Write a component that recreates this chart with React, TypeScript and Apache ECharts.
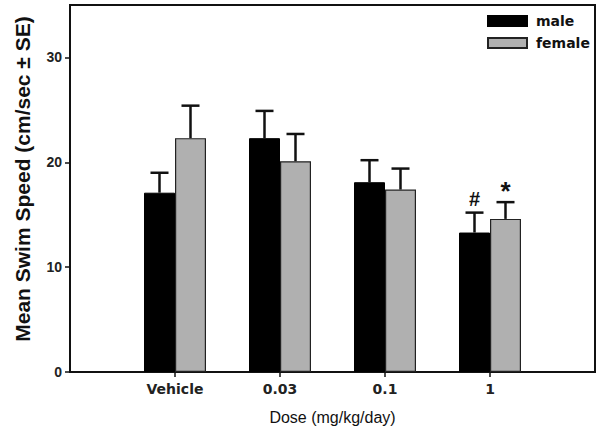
import React, { useEffect, useRef } from "react";
import * as echarts from "echarts";

const categories = ["", "Vehicle", "0.03", "0.1", "1", ""];
const maleMean = ["-", 17.1, 22.3, 18.1, 13.3, "-"];
const femaleMean = ["-", 22.3, 20.1, 17.4, 14.6, "-"];
const maleSE = [0, 1.9, 2.6, 2.1, 1.9, 0];
const femaleSE = [0, 3.1, 2.6, 2.0, 1.6, 0];
const maleMarks = ["", "", "", "", "#", ""];
const femaleMarks = ["", "", "", "", "*", ""];
const yTicks = [0, 10, 20, 30];
const yTitle = "Mean Swim Speed (cm/sec ± SE)";
const xTitle = "Dose (mg/kg/day)";

const FONT = "Liberation Sans, Arial, sans-serif";
const WIDE = "DejaVu Sans, sans-serif";
const BAR_W = 31;

function errorData(means: any[], ses: number[]) {
  const out: any[] = [];
  means.forEach((m, i) => {
    if (typeof m === "number") out.push([i, m, ses[i]]);
  });
  return out;
}

function makeErrorSeries(means: any[], ses: number[], marks: string[], offset: number, markSize: number, markDy: number) {
  const data = errorData(means, ses);
  return {
    type: "custom",
    silent: true,
    z: 5,
    data,
    renderItem: (params: any, api: any) => {
      const idx = api.value(0);
      const v = api.value(1);
      const e = api.value(2);
      const base = api.coord([idx, v]);
      const top = api.coord([idx, v + e]);
      const cx = base[0] + offset;
      const children: any[] = [
        { type: "line", shape: { x1: cx, y1: base[1], x2: cx, y2: top[1] }, style: { stroke: "#111", lineWidth: 2.5 } },
        { type: "line", shape: { x1: cx - 9, y1: top[1], x2: cx + 9, y2: top[1] }, style: { stroke: "#111", lineWidth: 2.5 } },
      ];
      const mark = marks[idx];
      if (mark) {
        children.push({
          type: "text",
          x: cx,
          y: top[1] - markDy,
          style: { text: mark, fill: "#111", font: `bold ${markSize}px ${FONT}`, align: "center", verticalAlign: "bottom" },
        });
      }
      return { type: "group", children };
    },
  };
}

export default function App() {
  const ref = useRef<HTMLDivElement>(null);
  useEffect(() => {
    if (!ref.current) return;
    const chart = echarts.init(ref.current, undefined, { renderer: "svg" });
    chart.setOption({
      animation: false,
      backgroundColor: "#fff",
      textStyle: { fontFamily: FONT },
      grid: { left: 70, right: 5, top: 5, bottom: 60, show: true, borderColor: "#111", borderWidth: 2, backgroundColor: "transparent" },
      legend: {
        orient: "vertical",
        left: 482,
        top: 9,
        itemWidth: 39,
        itemHeight: 10,
        itemGap: 8,
        icon: "rect",
        textStyle: { fontSize: 14, fontWeight: "bold", color: "#111", fontFamily: WIDE, padding: [0, 0, 0, 4] },
        data: ["male", "female"],
      },
      graphic: [
        {
          type: "text",
          x: 22,
          y: 179,
          rotation: Math.PI / 2,
          style: { text: yTitle, fill: "#111", font: `bold 21px ${FONT}`, align: "center", verticalAlign: "middle" },
        },
      ],
      xAxis: {
        type: "category",
        data: categories,
        boundaryGap: false,
        name: xTitle,
        nameLocation: "middle",
        nameGap: 37,
        nameTextStyle: { fontSize: 16, color: "#111", fontFamily: FONT },
        axisLine: { lineStyle: { color: "#111", width: 2 } },
        axisTick: { show: true, length: 5, lineStyle: { color: "#111", width: 1.5 }, interval: (i: number) => i >= 1 && i <= 4 },
        axisLabel: { fontSize: 14, fontWeight: "bold", color: "#222", margin: 10, interval: 0, fontFamily: WIDE },
        splitLine: { show: false },
      },
      yAxis: {
        type: "value",
        min: 0,
        max: 35,
        interval: 10,
        axisLine: { show: true, lineStyle: { color: "#111", width: 2 } },
        axisTick: { show: true, length: 5, lineStyle: { color: "#111", width: 1.5 }, customValues: yTicks },
        axisLabel: { fontSize: 14, fontWeight: "bold", color: "#222", margin: 8, customValues: yTicks },
        splitLine: { show: false },
      },
      series: [
        {
          name: "male",
          type: "bar",
          data: maleMean,
          barWidth: BAR_W,
          barGap: "0%",
          itemStyle: { color: "#000", borderColor: "#000", borderWidth: 1 },
        },
        {
          name: "female",
          type: "bar",
          data: femaleMean,
          barWidth: BAR_W,
          barGap: "0%",
          itemStyle: { color: "#b0b0b0", borderColor: "#222", borderWidth: 1.2 },
        },
        makeErrorSeries(maleMean, maleSE, maleMarks, -BAR_W / 2, 20, 4),
        makeErrorSeries(femaleMean, femaleSE, femaleMarks, BAR_W / 2, 26, -2),
      ],
    });
    return () => chart.dispose();
  }, []);
  return <div ref={ref} style={{ width: 600, height: 432, position: "absolute", left: 0, top: 0 }} />;
}
